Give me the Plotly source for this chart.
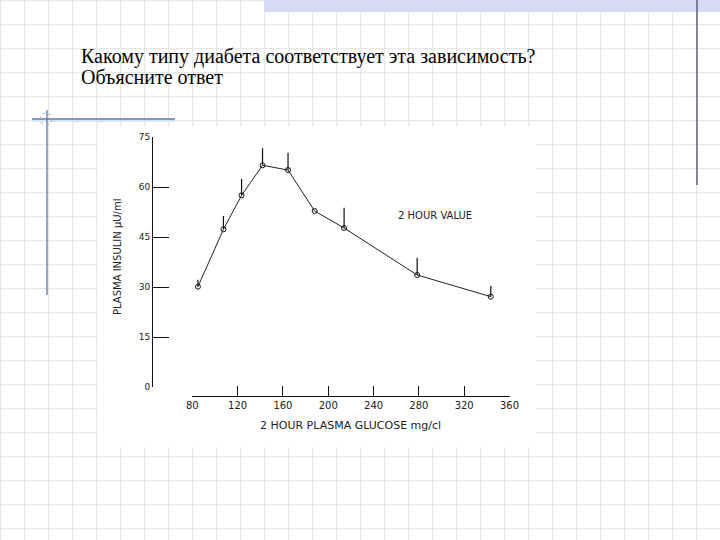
import plotly.graph_objects as go

# ---- data ----
glucose = [85, 107.5, 123.5, 142, 164.5, 188, 214, 278.5, 343.5]
insulin = [30.1, 47.3, 57.5, 66.5, 65.1, 52.8, 47.7, 33.6, 27.1]
err_up = [2.1, 4.0, 4.9, 5.1, 5.2, 0, 6.1, 5.2, 3.3]
x_ticks = [80, 120, 160, 200, 240, 280, 320, 360]
y_ticks = [0, 15, 30, 45, 60, 75]
title_lines = ["Какому типу диабета соответствует эта зависимость?", "Объясните ответ"]
x_title = "2 HOUR PLASMA GLUCOSE mg/cl"
y_title = "PLASMA INSULIN µU/ml"
note = "2 HOUR VALUE"

W, H = 720, 540


def px(x):
    return x / W


def py(y):
    return 1 - y / H


fig = go.Figure()
fig.add_trace(go.Scatter(
    x=glucose, y=insulin, mode="lines+markers",
    line=dict(color="#222222", width=1),
    marker=dict(symbol="circle-open", size=5, color="#111111", line=dict(width=1)),
    error_y=dict(type="data", symmetric=False, array=err_up,
                 arrayminus=[0] * len(err_up), width=0, thickness=1.2, color="#111111"),
    cliponaxis=False, showlegend=False, hoverinfo="x+y",
))

shapes = []
# slide grid
grid_col = "#e3e3e3"
k = 0
while 0.7 + 24 * k <= W:
    x = 0.7 + 24 * k
    shapes.append(dict(type="line", xref="paper", yref="paper", x0=px(x), x1=px(x), y0=0, y1=1,
                       line=dict(color=grid_col, width=1), layer="below"))
    k += 1
k = 0
while 0.7 + 24 * k <= H:
    y = 0.7 + 24 * k
    shapes.append(dict(type="line", xref="paper", yref="paper", x0=0, x1=1, y0=py(y), y1=py(y),
                       line=dict(color=grid_col, width=1), layer="below"))
    k += 1
# white image area
shapes.append(dict(type="rect", xref="paper", yref="paper", x0=px(97), x1=px(536), y0=py(447), y1=py(127),
                   fillcolor="white", line=dict(width=0), layer="below"))
# top band
shapes.append(dict(type="rect", xref="paper", yref="paper", x0=px(264), x1=1, y0=py(12), y1=1,
                   fillcolor="#d3dcf2", line=dict(width=0), layer="below"))
# right vertical line
shapes.append(dict(type="line", xref="paper", yref="paper", x0=px(697), x1=px(697), y0=py(185), y1=1,
                   line=dict(color="#5a6278", width=1.5), layer="below"))
# left decorations
shapes.append(dict(type="line", xref="paper", yref="paper", x0=px(32), x1=px(175), y0=py(121), y1=py(121),
                   line=dict(color="#d6e4f6", width=2), layer="below"))
shapes.append(dict(type="line", xref="paper", yref="paper", x0=px(32), x1=px(175), y0=py(119), y1=py(119),
                   line=dict(color="#5f74a8", width=1.3), layer="below"))
shapes.append(dict(type="line", xref="paper", yref="paper", x0=px(47), x1=px(47), y0=py(295), y1=py(110),
                   line=dict(color="#5f74a8", width=1.3), layer="below"))
shapes.append(dict(type="circle", xref="paper", yref="paper", x0=px(40), x1=px(52), y0=py(125), y1=py(113),
                   line=dict(color="#9aa6c0", width=1, dash="dot"), layer="below"))

annotations = [
    dict(text=title_lines[0], xref="paper", yref="paper", x=px(79), y=py(56), xanchor="left", yanchor="middle",
         showarrow=False, font=dict(family="Liberation Serif", size=20, color="#000000")),
    dict(text=title_lines[1], xref="paper", yref="paper", x=px(79), y=py(77), xanchor="left", yanchor="middle",
         showarrow=False, font=dict(family="Liberation Serif", size=20, color="#000000")),
    dict(text=x_title, xref="paper", yref="paper", x=px(350), y=py(425), xanchor="center", yanchor="middle",
         showarrow=False, font=dict(family="DejaVu Sans", size=11, color="#222222")),
    dict(text=y_title, xref="paper", yref="paper", x=px(118), y=py(257), xanchor="center", yanchor="middle",
         textangle=-90, showarrow=False, font=dict(family="DejaVu Sans", size=10, color="#222222")),
    dict(text=note, xref="x", yref="y", x=294, y=51.6, xanchor="center", yanchor="middle",
         showarrow=False, font=dict(family="DejaVu Sans", size=10, color="#222222")),
]

fig.update_layout(
    width=W, height=H, margin=dict(l=0, r=0, t=0, b=0),
    paper_bgcolor="white", plot_bgcolor="rgba(0,0,0,0)",
    shapes=shapes, annotations=annotations,
    xaxis=dict(domain=[px(192.3), px(509.5)], range=[80, 360], anchor="free", position=py(396),
               tickvals=x_ticks, ticktext=[str(v) for v in x_ticks],
               ticks="inside", ticklen=10, tickwidth=1, tickcolor="#111111",
               showline=True, linecolor="#111111", linewidth=1, showgrid=False, zeroline=False,
               automargin=False,
               tickfont=dict(family="DejaVu Sans", size=10, color="#222222")),
    yaxis=dict(domain=[py(387), py(137)], range=[0, 75], anchor="free", position=px(152),
               tickvals=y_ticks, ticktext=[str(v) for v in y_ticks],
               ticks="inside", ticklen=16, tickwidth=1, tickcolor="#111111",
               showline=True, linecolor="#111111", linewidth=1, showgrid=False, zeroline=False,
               automargin=False,
               tickfont=dict(family="DejaVu Sans", size=9, color="#222222")),
)

fig.write_html("out.html", config={"displayModeBar": False},
               post_script="document.body.style.margin='0';document.body.style.overflow='hidden';")
